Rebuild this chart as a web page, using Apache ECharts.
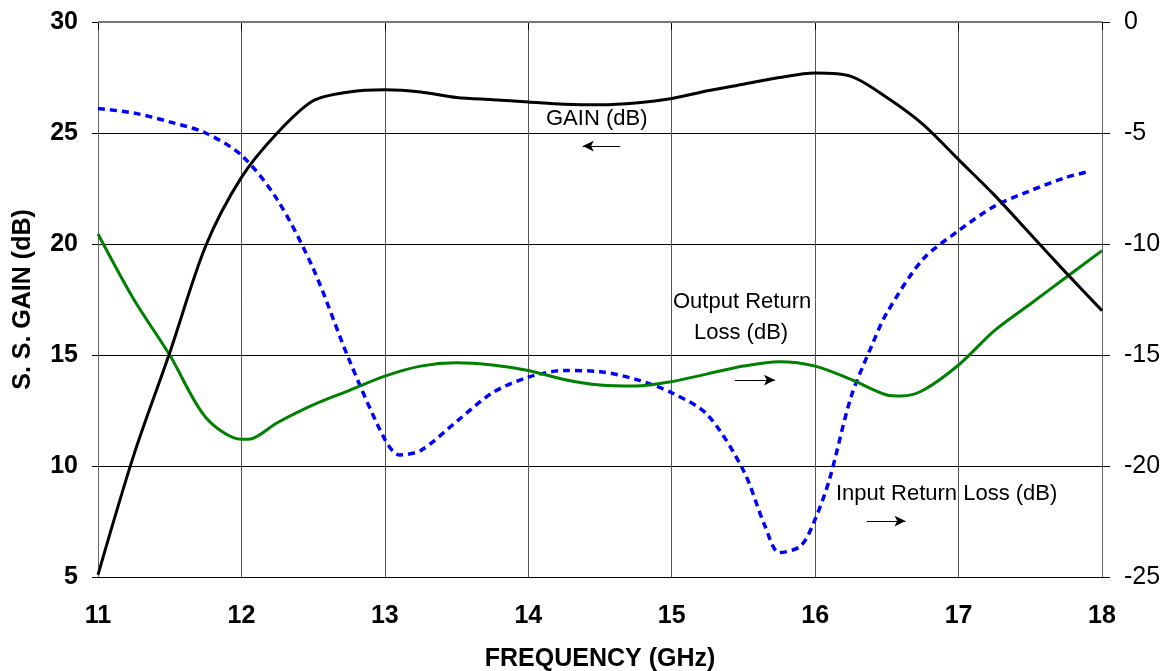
<!DOCTYPE html>
<html>
<head>
<meta charset="utf-8">
<script src="https://cdn.jsdelivr.net/npm/echarts@6/dist/echarts.min.js"></script>
<style>
  html, body { margin:0; padding:0; background:#fff; }
  #chart { width:1172px; height:671px; }
</style>
</head>
<body>
<div id="chart"></div>
<script>
// frequency points (GHz)
var freqGain = [11, 11.25, 11.5, 11.75, 12, 12.25, 12.5, 12.75, 13, 13.25, 13.5, 13.75, 14, 14.25, 14.5, 14.75, 15, 15.25, 15.5, 15.75, 16, 16.25, 16.5, 16.75, 17, 17.25, 17.5, 17.75, 18];
var gain = [5.1, 10.5, 15.1, 19.9, 23.0, 25.0, 26.45, 26.85, 26.95, 26.85, 26.6, 26.5, 26.4, 26.3, 26.27, 26.35, 26.55, 26.9, 27.2, 27.5, 27.7, 27.55, 26.6, 25.4, 23.8, 22.2, 20.45, 18.7, 17.0];

var freqIn = [11, 11.25, 11.5, 11.75, 12, 12.25, 12.5, 12.75, 13, 13.1, 13.25, 13.5, 13.75, 14, 14.25, 14.5, 14.75, 15, 15.25, 15.5, 15.65, 15.75, 15.9, 16, 16.1, 16.25, 16.4, 16.5, 16.75, 17, 17.25, 17.5, 17.75, 17.9];
var inputRL = [-3.9, -4.1, -4.5, -5.0, -6.0, -8.0, -11.1, -15.2, -18.8, -19.5, -19.3, -18.0, -16.7, -16.0, -15.7, -15.75, -16.1, -16.7, -17.7, -20.2, -22.7, -23.9, -23.6, -22.4, -20.6, -16.9, -14.5, -13.1, -10.7, -9.4, -8.3, -7.6, -7.0, -6.75];

var freqOut = [11, 11.25, 11.5, 11.75, 12, 12.05, 12.25, 12.5, 12.75, 13, 13.25, 13.5, 13.75, 14, 14.25, 14.5, 14.75, 15, 15.25, 15.5, 15.75, 16, 16.25, 16.5, 16.6, 16.75, 17, 17.25, 17.5, 17.75, 18];
var outputRL = [-9.55, -12.5, -15.0, -17.8, -18.8, -18.8, -18.05, -17.25, -16.6, -15.95, -15.5, -15.35, -15.45, -15.7, -16.1, -16.35, -16.4, -16.2, -15.85, -15.5, -15.3, -15.5, -16.1, -16.8, -16.85, -16.6, -15.45, -13.9, -12.7, -11.5, -10.3];

function pairs(xs, ys) {
    var out = [];
    for (var i = 0; i < xs.length; i++) out.push([xs[i], ys[i]]);
    return out;
}

var font = 'Liberation Sans, Arial, sans-serif';

function arrow(x1, x2, y) {
    return {
        silent: true,
        symbol: ['none', 'arrow'],
        symbolSize: [8, 11],
        label: {show: false},
        lineStyle: {color: '#000', width: 1, type: 'solid'},
        data: [[{coord: [x1, y]}, {coord: [x2, y]}]]
    };
}

var chart = echarts.init(document.getElementById('chart'));
var option = {
    animation: false,
    backgroundColor: '#fff',
    grid: {left: 98, right: 70, top: 22, bottom: 94, outerBoundsMode: 'none'},
    xAxis: {
        type: 'value',
        min: 11, max: 18, interval: 1,
        name: 'FREQUENCY (GHz)',
        nameLocation: 'middle',
        nameGap: 70,
        nameTextStyle: {fontFamily: font, fontWeight: 'bold', fontSize: 25, color: '#000'},
        axisLine: {show: true, lineStyle: {color: '#000', width: 1}},
        axisTick: {show: true, length: 8, lineStyle: {color: '#000'}},
        axisLabel: {margin: 27, fontFamily: font, fontWeight: 'bold', fontSize: 25, color: '#000'},
        splitLine: {show: true, lineStyle: {color: '#555', width: 1}}
    },
    yAxis: [
        {
            type: 'value',
            min: 5, max: 30, interval: 5,
            name: 'S. S. GAIN (dB)',
            nameLocation: 'middle',
            nameGap: 62,
            nameRotate: 90,
            nameTextStyle: {fontFamily: font, fontWeight: 'bold', fontSize: 25, color: '#000'},
            axisLine: {show: true, lineStyle: {color: '#666', width: 1}},
            axisTick: {show: true, length: 6, lineStyle: {color: '#000'}},
            axisLabel: {margin: 20, fontFamily: font, fontWeight: 'bold', fontSize: 25, color: '#000'},
            splitLine: {show: true, lineStyle: {color: '#000', width: 1}}
        },
        {
            type: 'value',
            min: -25, max: 0, interval: 5,
            position: 'right',
            axisLine: {show: true, lineStyle: {color: '#666', width: 1}},
            axisTick: {show: true, length: 8, lineStyle: {color: '#000'}},
            axisLabel: {margin: 22, fontFamily: font, fontSize: 25, color: '#000'},
            splitLine: {show: false}
        }
    ],
    graphic: [
        {type: 'rect', shape: {x: 98, y: 22, width: 1004, height: 0}, style: {stroke: '#777', lineWidth: 2, fill: null}, z: 10},
        {type: 'text', left: 546, top: 108, style: {text: 'GAIN (dB)', font: '22px ' + font, fill: '#000'}},
        {type: 'text', left: 673, top: 291, style: {text: 'Output Return', font: '22px ' + font, fill: '#000'}},
        {type: 'text', left: 694, top: 322, style: {text: 'Loss (dB)', font: '22px ' + font, fill: '#000'}},
        {type: 'text', left: 836, top: 483, style: {text: 'Input Return Loss (dB)', font: '22px ' + font, fill: '#000'}}
    ],
    series: [
        {
            name: 'Input Return Loss',
            type: 'line',
            yAxisIndex: 1,
            data: pairs(freqIn, inputRL),
            smooth: 0.3,
            symbol: 'none',
            lineStyle: {color: '#0000ff', width: 3.5, type: [7, 5]},
            z: 3,
            markLine: arrow(16.36, 16.63, -22.48)
        },
        {
            name: 'Output Return Loss',
            type: 'line',
            yAxisIndex: 1,
            data: pairs(freqOut, outputRL),
            smooth: 0.3,
            symbol: 'none',
            lineStyle: {color: '#008000', width: 3},
            z: 4,
            markLine: arrow(15.44, 15.72, -16.13)
        },
        {
            name: 'Gain',
            type: 'line',
            yAxisIndex: 0,
            data: pairs(freqGain, gain),
            smooth: 0.3,
            symbol: 'none',
            lineStyle: {color: '#000', width: 3},
            z: 5,
            markLine: arrow(14.64, 14.38, 24.41)
        }
    ]
};
chart.setOption(option);
</script>
</body>
</html>
